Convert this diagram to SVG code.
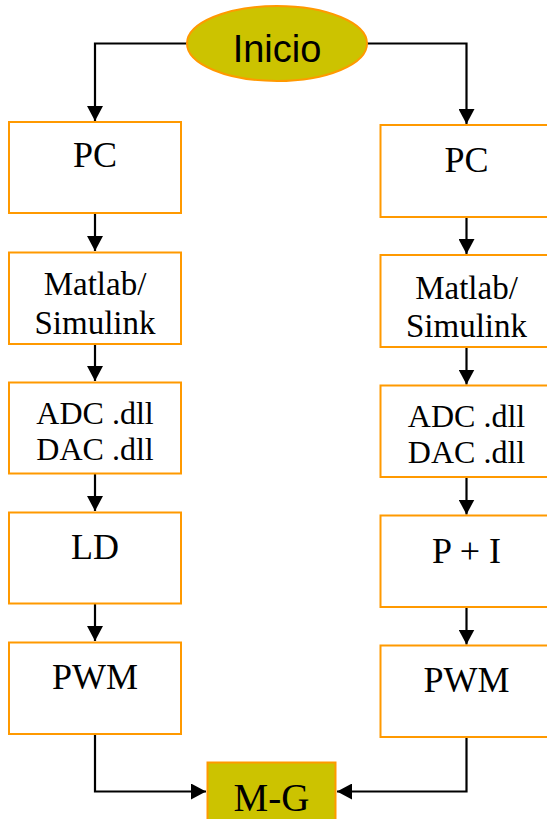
<svg xmlns="http://www.w3.org/2000/svg" width="547" height="819" viewBox="0 0 547 819">
<style>
.box{fill:#ffffff;stroke:#FF9900;stroke-width:2}
.olive{fill:#CCC300;stroke:#FF9900;stroke-width:2}
.t{font-family:"Liberation Serif","Times New Roman",serif;fill:#000;text-anchor:middle}
.s{font-family:"Liberation Sans",Arial,sans-serif;fill:#000;text-anchor:middle}
.c{fill:none;stroke:#000;stroke-width:2.2}
</style>
<defs>
<marker id="ah" markerUnits="userSpaceOnUse" markerWidth="16" markerHeight="16" refX="15" refY="8" orient="auto">
<path d="M0,0 L15,8 L0,16 Z" fill="#000"/>
</marker>
</defs>
<rect width="547" height="819" fill="#ffffff"/>
<g id="connectors">
<path class="c" d="M187,43.5 H95 V121" marker-end="url(#ah)"/>
<path class="c" d="M367,43.5 H466.5 V124" marker-end="url(#ah)"/>
<path class="c" d="M95,213 V251" marker-end="url(#ah)"/>
<path class="c" d="M95,344 V381" marker-end="url(#ah)"/>
<path class="c" d="M95,474 V511" marker-end="url(#ah)"/>
<path class="c" d="M95,604 V641" marker-end="url(#ah)"/>
<path class="c" d="M95,734 V791.5 H206" marker-end="url(#ah)"/>
<path class="c" d="M466.5,217 V254" marker-end="url(#ah)"/>
<path class="c" d="M466.5,347 V384.5" marker-end="url(#ah)"/>
<path class="c" d="M466.5,477 V514.5" marker-end="url(#ah)"/>
<path class="c" d="M466.5,607 V644.5" marker-end="url(#ah)"/>
<path class="c" d="M466.5,737 V791.5 H337" marker-end="url(#ah)"/>
</g>
<g id="inicio">
<ellipse class="olive" cx="277" cy="43.5" rx="90" ry="37.5" stroke-width="1.5"/>
<text class="s" x="277" y="62" font-size="38">Inicio</text>
</g>
<g id="pc-left">
<rect class="box" x="9" y="122" width="172" height="91"/>
<text class="t" x="95" y="167" font-size="36">PC</text>
</g>
<g id="matlab-left">
<rect class="box" x="9" y="252.5" width="172" height="91.5"/>
<text class="t" x="95" y="295" font-size="33">Matlab/</text>
<text class="t" x="95" y="334" font-size="33">Simulink</text>
</g>
<g id="adc-left">
<rect class="box" x="9" y="382.5" width="172" height="91"/>
<text class="t" x="95" y="423.5" font-size="32">ADC .dll</text>
<text class="t" x="95" y="459.5" font-size="32">DAC .dll</text>
</g>
<g id="ld-left">
<rect class="box" x="9" y="512.5" width="172" height="91"/>
<text class="t" x="95" y="559" font-size="36">LD</text>
</g>
<g id="pwm-left">
<rect class="box" x="9" y="642.5" width="172" height="91.5"/>
<text class="t" x="95" y="688.5" font-size="36">PWM</text>
</g>
<g id="pc-right">
<rect class="box" x="380.5" y="125" width="173" height="92"/>
<text class="t" x="466.5" y="171.5" font-size="36">PC</text>
</g>
<g id="matlab-right">
<rect class="box" x="380.5" y="255" width="173" height="92"/>
<text class="t" x="466.5" y="298.5" font-size="33">Matlab/</text>
<text class="t" x="466.5" y="337" font-size="33">Simulink</text>
</g>
<g id="adc-right">
<rect class="box" x="380.5" y="385.5" width="173" height="91.5"/>
<text class="t" x="466.5" y="427" font-size="32">ADC .dll</text>
<text class="t" x="466.5" y="463" font-size="32">DAC .dll</text>
</g>
<g id="pi-right">
<rect class="box" x="380.5" y="515.5" width="173" height="91.5"/>
<text class="t" x="466.5" y="562.5" font-size="36">P + I</text>
</g>
<g id="pwm-right">
<rect class="box" x="380.5" y="645.5" width="173" height="91.5"/>
<text class="t" x="466.5" y="692" font-size="36">PWM</text>
</g>
<g id="mg">
<rect class="olive" x="207.5" y="762.5" width="128" height="70"/>
<text class="t" x="271.5" y="811" font-size="39">M-G</text>
</g>
</svg>
